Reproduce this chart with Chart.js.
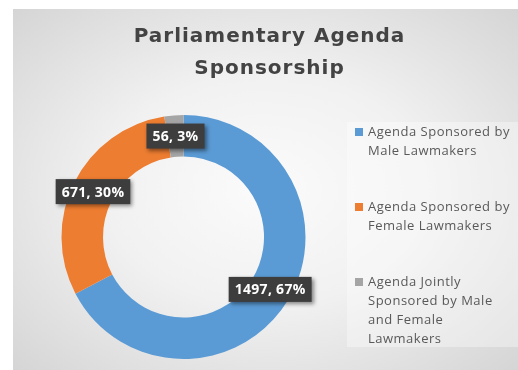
<!DOCTYPE html>
<html>
<head>
<meta charset="utf-8">
<script src="https://cdn.jsdelivr.net/npm/chart.js@4.4.1/dist/chart.umd.min.js"></script>
<style>
  html, body { margin: 0; padding: 0; background: #fff; }
  #wrap {
    position: absolute;
    left: 13px;
    top: 9px;
    width: 505px;
    height: 361px;
    background: radial-gradient(ellipse at 50% 50%, #fbfbfb 0%, #f1f1f1 45%, #d5d5d5 100%);
  }
</style>
</head>
<body>
<div id="wrap"><canvas id="agendaChart"></canvas></div>
<script>
// sponsorship categories (legend text already split into lines)
const categories = [
  ['Agenda Sponsored by', 'Male Lawmakers'],
  ['Agenda Sponsored by', 'Female Lawmakers'],
  ['Agenda Jointly', 'Sponsored by Male', 'and Female', 'Lawmakers']
];
const agendaCounts = [1497, 671, 56];
const sliceColors = ['#5b9bd5', '#ed7d31', '#a5a5a5'];
const titleLines = ['Parliamentary Agenda', 'Sponsorship'];

// "value, percent" boxes sitting on each ring segment
const valueLabels = {
  id: 'valueLabels',
  afterDatasetsDraw(chart) {
    const ctx = chart.ctx;
    const values = chart.data.datasets[0].data;
    const total = values.reduce((a, b) => a + b, 0);
    ctx.save();
    ctx.font = 'bold 14px "Open Sans"';
    ctx.letterSpacing = '0.3px';
    ctx.textAlign = 'center';
    ctx.textBaseline = 'middle';
    chart.getDatasetMeta(0).data.forEach((arc, i) => {
      const pos = arc.tooltipPosition();
      const text = values[i] + ', ' + Math.round(values[i] / total * 100) + '%';
      const w = ctx.measureText(text).width + 12;
      const h = 25;
      ctx.shadowColor = 'rgba(0, 0, 0, 0.45)';
      ctx.shadowBlur = 4;
      ctx.shadowOffsetX = 2;
      ctx.shadowOffsetY = 2;
      ctx.fillStyle = '#3d3d3d';
      ctx.fillRect(pos.x - w / 2, pos.y - h / 2, w, h);
      ctx.shadowColor = 'transparent';
      ctx.fillStyle = '#ffffff';
      ctx.fillText(text, pos.x, pos.y + 1);
    });
    ctx.restore();
  }
};

// title on top and a wrapped legend on the right
const frame = {
  id: 'frame',
  afterDraw(chart) {
    const ctx = chart.ctx;
    const area = chart.chartArea;
    ctx.save();

    ctx.fillStyle = '#434343';
    ctx.font = 'bold 20px "DejaVu Sans"';
    ctx.letterSpacing = '1px';
    ctx.textAlign = 'center';
    ctx.textBaseline = 'alphabetic';
    titleLines.forEach((line, i) => {
      ctx.fillText(line, chart.width / 2 + 4, 33 + i * 32);
    });

    const left = area.right + 41;
    const top = 113;
    ctx.fillStyle = 'rgba(255, 255, 255, 0.35)';
    ctx.fillRect(left, top, chart.width - left, 225);

    ctx.font = '13px "Open Sans"';
    ctx.letterSpacing = '0.5px';
    ctx.textAlign = 'left';
    ctx.textBaseline = 'middle';
    const lineH = 19;
    let y = top + 10;
    chart.data.labels.forEach((lines, i) => {
      ctx.fillStyle = chart.data.datasets[0].backgroundColor[i];
      ctx.fillRect(left + 8, y - 4, 8, 8);
      ctx.fillStyle = '#595959';
      lines.forEach((line, j) => {
        ctx.fillText(line, left + 21, y + j * lineH);
      });
      y += lines.length * lineH + 37;
    });
    ctx.restore();
  }
};

new Chart(document.getElementById('agendaChart'), {
  type: 'doughnut',
  data: {
    labels: categories,
    datasets: [{
      data: agendaCounts,
      backgroundColor: sliceColors,
      borderWidth: 0
    }]
  },
  options: {
    responsive: true,
    maintainAspectRatio: false,
    animation: false,
    cutout: '66%',
    layout: {
      padding: { left: 48, top: 106, right: 212, bottom: 11 }
    },
    plugins: {
      legend: { display: false },
      tooltip: { enabled: false }
    }
  },
  plugins: [valueLabels, frame]
});
</script>
</body>
</html>
